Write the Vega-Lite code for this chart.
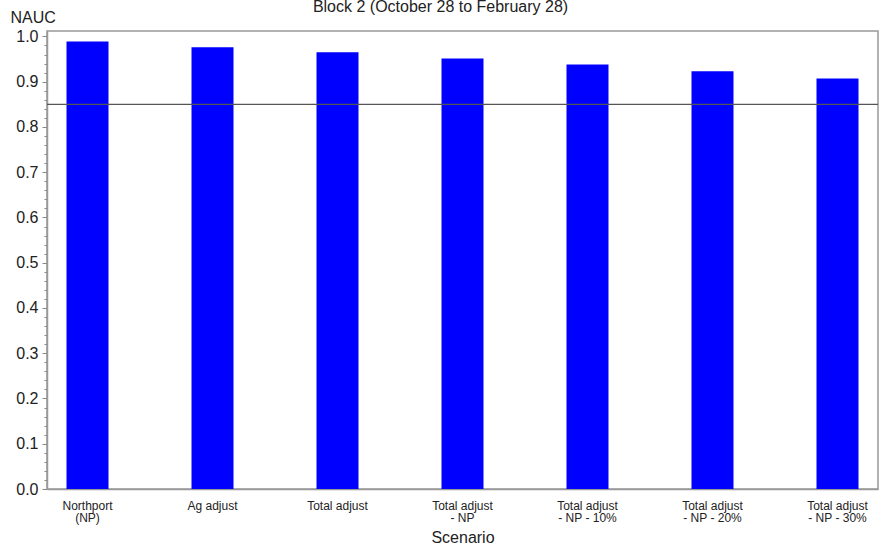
{
  "$schema": "https://vega.github.io/schema/vega-lite/v6.json",
  "width": 831,
  "height": 458,
  "autosize": "none",
  "padding": {"left": 47, "top": 31, "right": 1, "bottom": 64},
  "background": "white",
  "title": {
    "text": "Block 2 (October 28 to February 28)",
    "font": "Liberation Sans",
    "fontSize": 16,
    "fontWeight": "normal",
    "color": "#222222",
    "anchor": "middle",
    "baseline": "alphabetic",
    "dx": -22,
    "offset": -19
  },
  "config": {
    "view": {"stroke": "#999999", "strokeWidth": 1.5},
    "font": "Liberation Sans"
  },
  "data": {
    "values": [
      {"scenario": "Northport\n(NP)", "nauc": 0.989},
      {"scenario": "Ag adjust", "nauc": 0.976},
      {"scenario": "Total adjust", "nauc": 0.965},
      {"scenario": "Total adjust\n- NP", "nauc": 0.951},
      {"scenario": "Total adjust\n- NP - 10%", "nauc": 0.938},
      {"scenario": "Total adjust\n- NP - 20%", "nauc": 0.923},
      {"scenario": "Total adjust\n- NP - 30%", "nauc": 0.907}
    ]
  },
  "layer": [
    {
      "mark": {"type": "bar", "color": "#0000FF"},
      "encoding": {
        "x": {
          "field": "scenario",
          "type": "nominal",
          "sort": null,
          "scale": {"paddingInner": 0.664, "paddingOuter": 0.156},
          "axis": {
            "title": "Scenario",
            "titleFont": "Liberation Sans",
            "titleFontSize": 16,
            "titleFontWeight": "normal",
            "titleColor": "#222222",
            "titleY": 53,
            "titleBaseline": "alphabetic",
            "labelAngle": 0,
            "labelExpr": "split(datum.label, '\\n')",
            "labelFont": "Liberation Sans",
            "labelFontSize": 12,
            "labelLineHeight": 12,
            "labelColor": "#222222",
            "labelBaseline": "top",
            "labelPadding": 11,
            "ticks": false,
            "domainColor": "#999999",
            "domainWidth": 1.5
          }
        },
        "y": {
          "field": "nauc",
          "type": "quantitative",
          "scale": {"domain": [0, 1.012], "nice": false, "zero": true},
          "axis": {
            "title": "NAUC",
            "titleAngle": 0,
            "titleAlign": "left",
            "titleBaseline": "alphabetic",
            "titleX": -37,
            "titleY": -9,
            "titleFont": "Liberation Sans",
            "titleFontSize": 16,
            "titleFontWeight": "normal",
            "titleColor": "#222222",
            "tickCount": 200,
            "values": [0, 0.02, 0.04, 0.06, 0.08, 0.1, 0.12, 0.14, 0.16, 0.18, 0.2, 0.22, 0.24, 0.26, 0.28, 0.3, 0.32, 0.34, 0.36, 0.38, 0.4, 0.42, 0.44, 0.46, 0.48, 0.5, 0.52, 0.54, 0.56, 0.58, 0.6, 0.62, 0.64, 0.66, 0.68, 0.7, 0.72, 0.74, 0.76, 0.78, 0.8, 0.82, 0.84, 0.86, 0.88, 0.9, 0.92, 0.94, 0.96, 0.98, 1.0],
            "labelExpr": "abs(datum.value * 10 - round(datum.value * 10)) < 0.001 ? format(datum.value, '.1f') : ''",
            "tickSize": {"condition": {"test": "abs(datum.value * 10 - round(datum.value * 10)) < 0.001", "value": 5}, "value": 3},
            "tickColor": "#888888",
            "labelFont": "Liberation Sans",
            "labelFontSize": 16,
            "labelColor": "#222222",
            "labelPadding": 4,
            "labelOverlap": false,
            "grid": false,
            "domainColor": "#999999",
            "domainWidth": 1.5
          }
        }
      }
    },
    {
      "data": {"values": [{"ref": 0.85}]},
      "mark": {"type": "rule", "color": "#555555", "strokeWidth": 1.2},
      "encoding": {"y": {"field": "ref", "type": "quantitative"}}
    }
  ]
}
